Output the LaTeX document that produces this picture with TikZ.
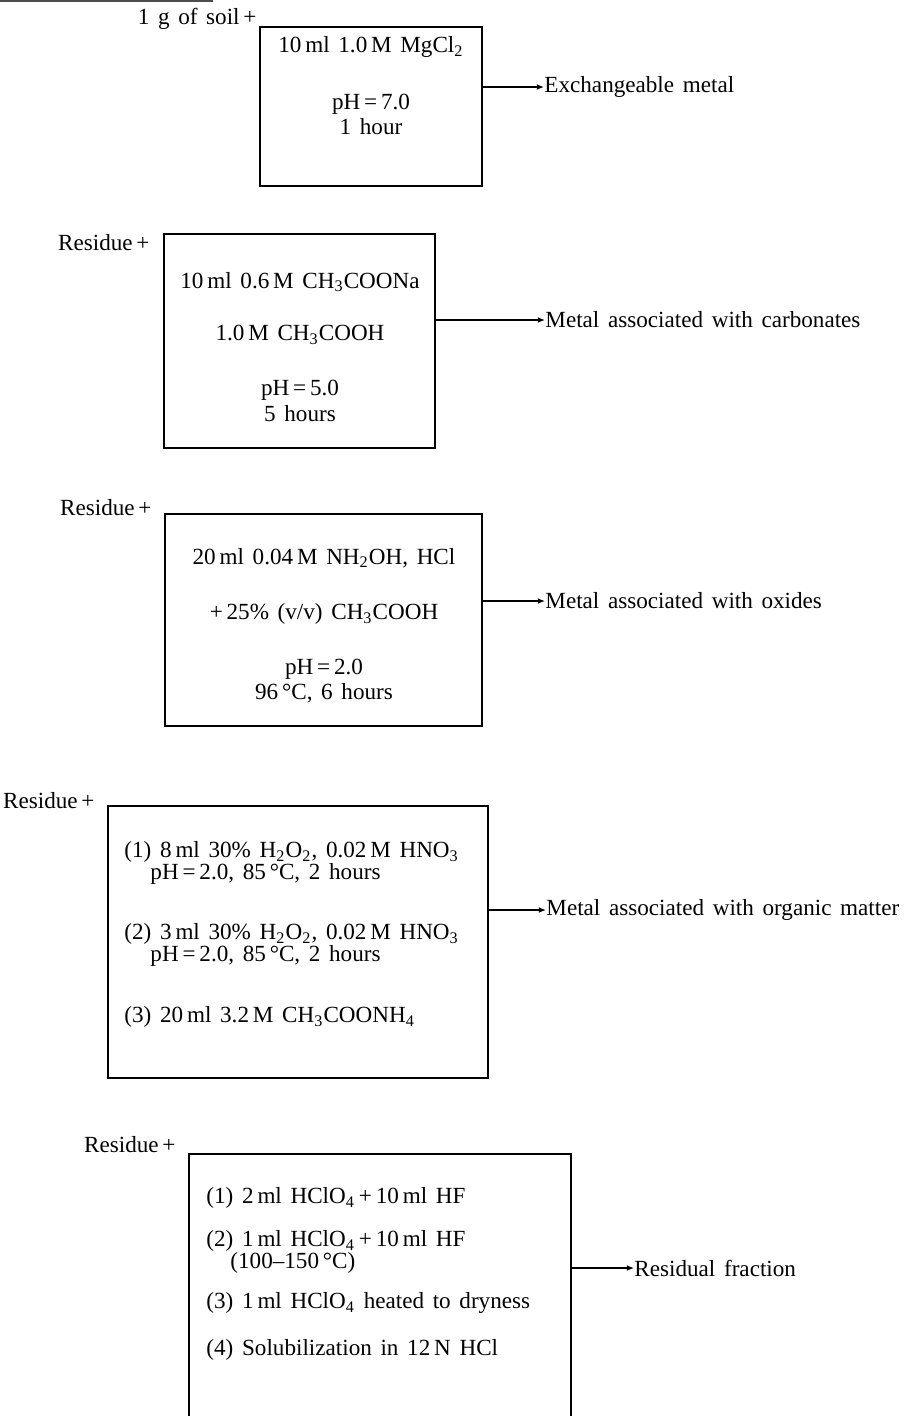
\documentclass[tikz,border=0pt]{standalone}
\usepackage{fontspec}
\setmainfont{Liberation Serif}[WordSpace=1.5]
\usetikzlibrary{arrows.meta,fit}

\begin{document}
\begin{tikzpicture}[x=0.0152cm, y=-0.0152cm, font=\fontsize{10}{12}\selectfont,
  stepbox/.style={draw, line width=0.8pt, inner sep=0pt},
  txt/.style={inner sep=0pt},
  outarrow/.style={line width=0.55pt, -{Latex[length=1.1mm, width=0.9mm]}}]
  % page frame (pixel grid of the scan, y downwards)
  \clip[use as bounding box] (0,0) rectangle (914,1416);

  % rule left over at the top of the page
  \coordinate (r0) at (0,1);
  \coordinate (r1) at (213,1);
  \draw[line width=0.9pt, black!70] (r0) -- (r1);

  % Step 1: exchangeable
  \node[txt, anchor=east] (in1) at (257,19) {1 g of soil\,+};
  \coordinate (b1nw) at (260,27);
  \coordinate (b1se) at (482,186);
  \node[stepbox, fit=(b1nw)(b1se)] (box1) {};
  \node[txt] (s1a) at (371,47) {10\,ml 1.0\,M MgCl\textsubscript{2}};
  \node[txt] (s1b) at (371,104) {pH\,=\,7.0};
  \node[txt] (s1c) at (371,127) {1 hour};
  \node[txt, anchor=west] (out1) at (544,87) {Exchangeable metal};
  \draw[outarrow] (box1.east |- out1.west) -- (out1.west);

  % Step 2: carbonates
  \node[txt, anchor=east] (in2) at (150,243) {Residue\,+};
  \coordinate (b2nw) at (164,234);
  \coordinate (b2se) at (435,448);
  \node[stepbox, fit=(b2nw)(b2se)] (box2) {};
  \node[txt] (s2a) at (300,282) {10\,ml 0.6\,M CH\textsubscript{3}COONa};
  \node[txt] (s2b) at (300,335) {1.0\,M CH\textsubscript{3}COOH};
  \node[txt] (s2c) at (300,390) {pH\,=\,5.0};
  \node[txt] (s2d) at (300,414) {5 hours};
  \node[txt, anchor=west] (out2) at (545,320) {Metal associated with carbonates};
  \draw[outarrow] (box2.east |- out2.west) -- (out2.west);

  % Step 3: oxides
  \node[txt, anchor=east] (in3) at (152,508) {Residue\,+};
  \coordinate (b3nw) at (165,514);
  \coordinate (b3se) at (482,726);
  \node[stepbox, fit=(b3nw)(b3se)] (box3) {};
  \node[txt] (s3a) at (324,558) {20\,ml 0.04\,M NH\textsubscript{2}OH, HCl};
  \node[txt] (s3b) at (324,614) {+\,25\% (v/v) CH\textsubscript{3}COOH};
  \node[txt] (s3c) at (324,669) {pH\,=\,2.0};
  \node[txt] (s3d) at (324,693) {96\,°C, 6 hours};
  \node[txt, anchor=west] (out3) at (545,601) {Metal associated with oxides};
  \draw[outarrow] (box3.east |- out3.west) -- (out3.west);

  % Step 4: organic matter
  \node[txt, anchor=east] (in4) at (95,801) {Residue\,+};
  \coordinate (b4nw) at (108,806);
  \coordinate (b4se) at (488,1078);
  \node[stepbox, fit=(b4nw)(b4se)] (box4) {};
  \node[txt, anchor=west] (s4a) at (124,852) {(1)\ 8\,ml 30\% H\textsubscript{2}O\textsubscript{2}, 0.02\,M HNO\textsubscript{3}};
  \node[txt, anchor=west] (s4b) at (150,874) {pH\,=\,2.0, 85\,°C, 2 hours};
  \node[txt, anchor=west] (s4c) at (124,934) {(2)\ 3\,ml 30\% H\textsubscript{2}O\textsubscript{2}, 0.02\,M HNO\textsubscript{3}};
  \node[txt, anchor=west] (s4d) at (150,956) {pH\,=\,2.0, 85\,°C, 2 hours};
  \node[txt, anchor=west] (s4e) at (124,1017) {(3)\ 20\,ml 3.2\,M CH\textsubscript{3}COONH\textsubscript{4}};
  \node[txt, anchor=west] (out4) at (546,910) {Metal associated with organic matter};
  \draw[outarrow] (box4.east |- out4.west) -- (out4.west);

  % Step 5: residual (box runs off the page)
  \node[txt, anchor=east] (in5) at (176,1145) {Residue\,+};
  \coordinate (b5nw) at (189,1154);
  \coordinate (b5se) at (571,1440);
  \node[stepbox, fit=(b5nw)(b5se)] (box5) {};
  \node[txt, anchor=west] (s5a) at (206,1198) {(1)\ 2\,ml HClO\textsubscript{4}\,+\,10\,ml HF};
  \node[txt, anchor=west] (s5b) at (206,1241) {(2)\ 1\,ml HClO\textsubscript{4}\,+\,10\,ml HF};
  \node[txt, anchor=west] (s5c) at (230,1263) {(100--150\,°C)};
  \node[txt, anchor=west] (s5d) at (206,1303) {(3)\ 1\,ml HClO\textsubscript{4} heated to dryness};
  \node[txt, anchor=west] (s5e) at (206,1350) {(4)\ Solubilization in 12\,N HCl};
  \node[txt, anchor=west] (out5) at (634,1268) {Residual fraction};
  \draw[outarrow] (b5se |- out5.west) -- (out5.west);
\end{tikzpicture}
\end{document}
